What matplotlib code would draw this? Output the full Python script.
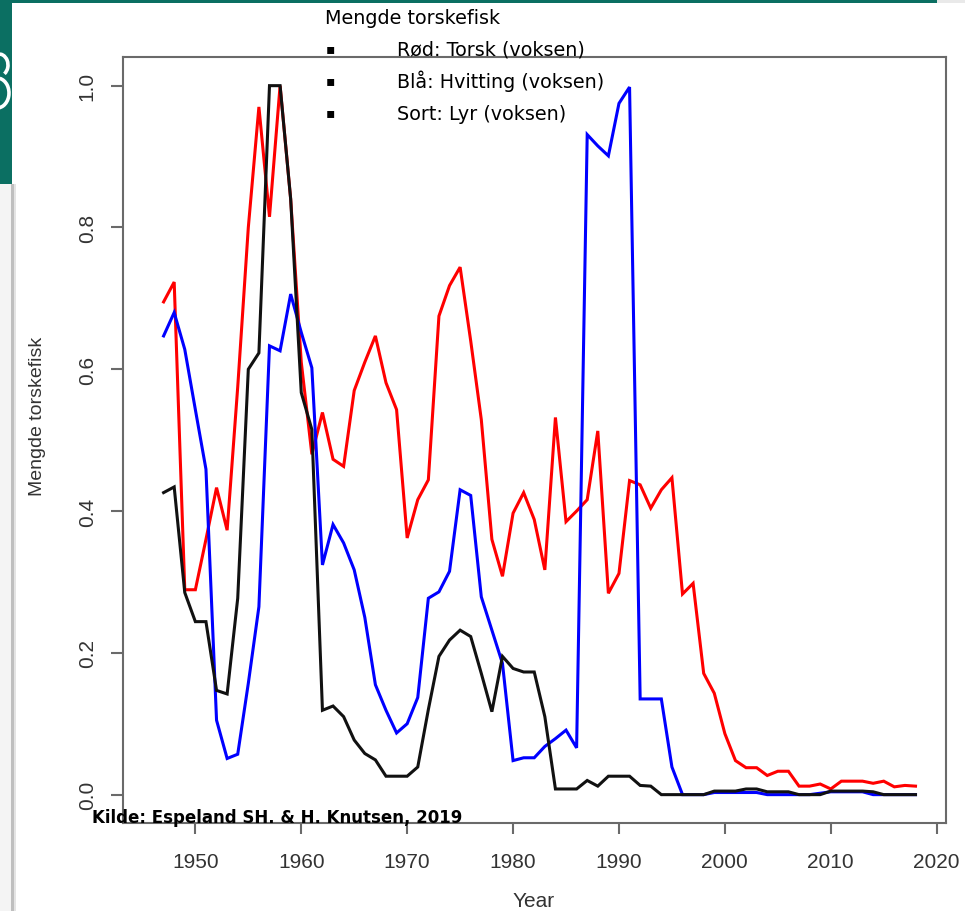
import matplotlib
matplotlib.use("Agg")
import matplotlib.pyplot as plt
from matplotlib.patches import Rectangle, Arc

# ---------------- data ----------------
years = list(range(1947, 2019))

torsk = [0.695, 0.723, 0.289, 0.289, 0.36, 0.433, 0.373, 0.575, 0.80, 0.97,
         0.815, 1.0, 0.84, 0.61, 0.48, 0.539, 0.473, 0.463, 0.57, 0.61,
         0.647, 0.581, 0.543, 0.362, 0.416, 0.444, 0.675, 0.718, 0.744, 0.64,
         0.529, 0.36, 0.308, 0.397, 0.426, 0.388, 0.317, 0.532, 0.385, 0.40,
         0.416, 0.513, 0.284, 0.312, 0.443, 0.437, 0.404, 0.430, 0.447, 0.283,
         0.298, 0.171, 0.143, 0.086, 0.048, 0.038, 0.038, 0.027, 0.033, 0.033,
         0.012, 0.012, 0.015, 0.008, 0.019, 0.019, 0.019, 0.016, 0.019, 0.011,
         0.013, 0.012]

hvitting = [0.647, 0.680, 0.628, 0.543, 0.459, 0.105, 0.051, 0.057, 0.157, 0.265,
            0.633, 0.626, 0.706, 0.652, 0.602, 0.324, 0.381, 0.355, 0.317, 0.25,
            0.155, 0.119, 0.087, 0.100, 0.137, 0.277, 0.286, 0.315, 0.430, 0.422,
            0.279, 0.232, 0.185, 0.048, 0.052, 0.052, 0.068, 0.079, 0.091, 0.066,
            0.931, 0.915, 0.901, 0.975, 0.998, 0.135, 0.135, 0.135, 0.039, 0.0,
            0.0, 0.0, 0.003, 0.003, 0.003, 0.003, 0.003, 0.0, 0.0, 0.0,
            0.0, 0.0, 0.002, 0.004, 0.004, 0.004, 0.004, 0.0, 0.0, 0.0,
            0.0, 0.0]

lyr = [0.426, 0.434, 0.285, 0.244, 0.244, 0.147, 0.142, 0.277, 0.600, 0.623,
       1.0, 1.0, 0.84, 0.567, 0.515, 0.119, 0.125, 0.110, 0.077, 0.058,
       0.049, 0.026, 0.026, 0.026, 0.039, 0.12, 0.195, 0.218, 0.232, 0.223,
       0.171, 0.117, 0.195, 0.178, 0.173, 0.173, 0.110, 0.008, 0.008, 0.008,
       0.020, 0.012, 0.026, 0.026, 0.026, 0.013, 0.012, 0.0, 0.0, 0.0,
       0.0, 0.0, 0.005, 0.005, 0.005, 0.008, 0.008, 0.004, 0.004, 0.004,
       0.0, 0.0, 0.0, 0.005, 0.005, 0.005, 0.005, 0.004, 0.0, 0.0,
       0.0, 0.0]

x_ticks = [1950, 1960, 1970, 1980, 1990, 2000, 2010, 2020]
y_ticks = [0.0, 0.2, 0.4, 0.6, 0.8, 1.0]
y_tick_labels = ["0.0", "0.2", "0.4", "0.6", "0.8", "1.0"]

title_text = "Mengde torskefisk"
legend_items = ["Rød: Torsk (voksen)", "Blå: Hvitting (voksen)", "Sort: Lyr (voksen)"]
source_text = "Kilde: Espeland SH. & H. Knutsen, 2019"
x_label = "Year"
y_label = "Mengde torskefisk"

# ---------------- figure ----------------
W, H = 965, 912
fig = plt.figure(figsize=(W / 100, H / 100), dpi=100)
fig.patch.set_facecolor("white")

def fx(px):
    return px / W

def fy(py):
    return 1 - py / H

TEAL = "#0b6f62"
# slide decorations
fig.add_artist(Rectangle((fx(0), fy(3.5)), fx(937), 3.5 / H, transform=fig.transFigure,
                         facecolor=TEAL, edgecolor="none", zorder=0))
fig.add_artist(Rectangle((fx(937), fy(3.5)), fx(28), 3.5 / H, transform=fig.transFigure,
                         facecolor="#e9e9e9", edgecolor="none", zorder=0))
fig.add_artist(Rectangle((fx(0), fy(185)), fx(12), 185 / H, transform=fig.transFigure,
                         facecolor=TEAL, edgecolor="none", zorder=0))
fig.add_artist(Rectangle((fx(0), fy(912)), fx(11), (912 - 185) / H, transform=fig.transFigure,
                         facecolor="#f4f4f4", edgecolor="none", zorder=0))
fig.add_artist(Rectangle((fx(11), fy(912)), fx(2.5), (912 - 185) / H, transform=fig.transFigure,
                         facecolor="#bfbfbf", edgecolor="none", zorder=0))
fig.add_artist(Rectangle((fx(13.5), fy(912)), fx(2), (912 - 185) / H, transform=fig.transFigure,
                         facecolor="#e4e4e4", edgecolor="none", zorder=0))
# partial white glyph on the teal band (drawn as strokes)
fig.add_artist(Arc((fx(-1), fy(66)), 2 * 9 / W, 2 * 11 / H, theta1=-60, theta2=100,
                   transform=fig.transFigure, color="white", lw=2.6, zorder=1))
fig.add_artist(Arc((fx(-3), fy(94)), 2 * 12 / W, 2 * 15 / H, theta1=-100, theta2=80,
                   transform=fig.transFigure, color="white", lw=2.6, zorder=1))

# axes
left, right, top, bottom = 122.5, 946, 58.3, 824
ax = fig.add_axes([fx(left), fy(bottom), fx(right - left), (bottom - top) / H])
ax.set_facecolor("none")

ax.plot(years, torsk, color="#ff0000", lw=2.2, solid_joinstyle="miter", zorder=3)
ax.plot(years, hvitting, color="#0000ff", lw=2.2, solid_joinstyle="miter", zorder=4)
ax.plot(years, lyr, color="#111111", lw=2.2, solid_joinstyle="miter", zorder=5)

ax.set_xlim(1943.12, 2020.88)
ax.set_ylim(-0.04, 1.04)

for sp in ax.spines.values():
    sp.set_color("#6a6a6a")
    sp.set_linewidth(1.5)

ax.set_xticks(x_ticks)
ax.set_xticklabels([str(t) for t in x_ticks])
ax.set_yticks(y_ticks)
ax.set_yticklabels(y_tick_labels)
ax.tick_params(axis="both", direction="out", color="#6a6a6a", width=1.5,
               labelcolor="#333333", labelsize=15)
ax.tick_params(axis="x", length=8, pad=13)
ax.tick_params(axis="y", length=8.6, pad=10)
for lbl in ax.get_xticklabels() + ax.get_yticklabels():
    lbl.set_family("Liberation Sans")
for lbl in ax.get_yticklabels():
    lbl.set_rotation(90)
    lbl.set_va("center")

# axis titles
fig.text(fx(38), fy(416), y_label, rotation=90, ha="center", va="center",
         fontsize=14, color="#333333", family="Liberation Sans")
fig.text(fx(534), fy(911), x_label, ha="center", va="bottom",
         fontsize=15, color="#333333", family="Liberation Sans")

# slide text overlay
fig.text(fx(325), fy(24.5), title_text, ha="left", va="baseline",
         fontsize=13.8, color="black", family="DejaVu Sans", zorder=10)
bullet_y = [49.5, 81.5, 113.5]
text_base = [56, 88, 120]
for item, by, tb in zip(legend_items, bullet_y, text_base):
    fig.text(fx(330), fy(by), "\u25aa", ha="center", va="center",
             fontsize=10, color="black", family="DejaVu Sans", zorder=10)
    fig.text(fx(397), fy(tb), item, ha="left", va="baseline",
             fontsize=13.8, color="black", family="DejaVu Sans", zorder=10)

fig.text(fx(92), fy(823), source_text, ha="left", va="baseline",
         fontsize=12, fontweight="bold", color="black", family="DejaVu Sans", zorder=10)

fig.savefig("out.png", dpi=100)
